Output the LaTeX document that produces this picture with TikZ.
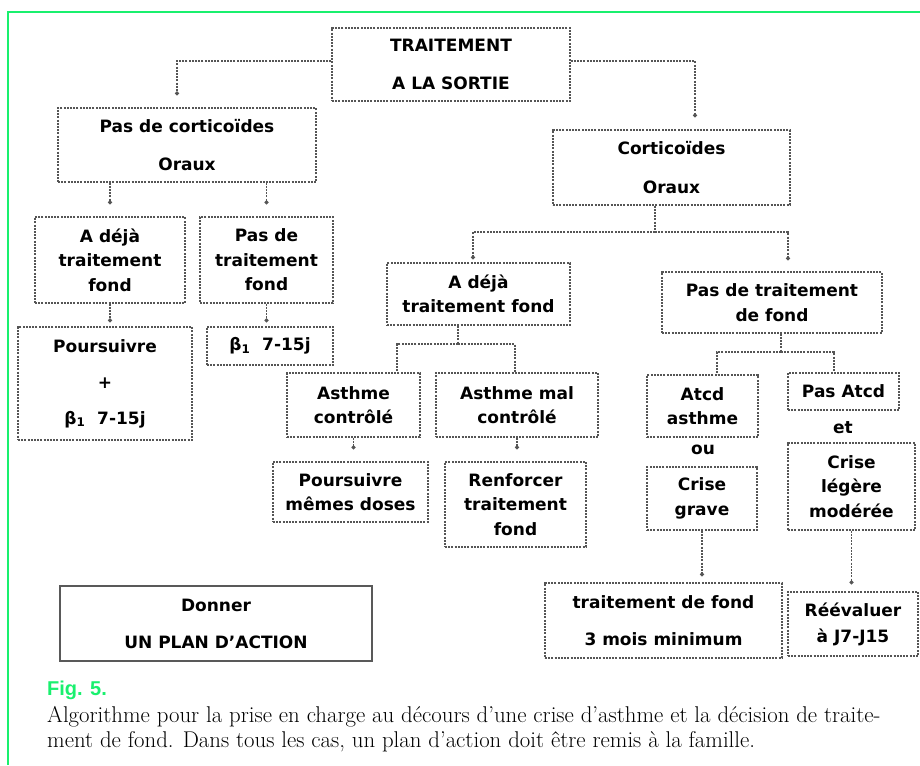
\documentclass[tikz,border=0pt]{standalone}
\usepackage{fontspec}
\setsansfont{DejaVu Sans}
\newfontfamily\figfont{Liberation Sans}
\usetikzlibrary{arrows.meta}

\definecolor{vertfig}{RGB}{25,240,110}
\definecolor{gristrait}{RGB}{85,85,85}

\tikzset{
  boite/.style={draw=gristrait, dash pattern=on 2pt off 1.2pt, line width=1.2pt,
    align=center, inner sep=0pt, font=\sffamily\bfseries\fontsize{17}{24.5}\selectfont},
  texte/.style={inner sep=0pt, font=\sffamily\bfseries\fontsize{17}{24.5}\selectfont},
  fil/.style={draw=gristrait, dash pattern=on 2pt off 1.2pt, line width=1.2pt},
  lien/.style={fil, -{Circle[length=4pt]}, shorten >=#1},
  lien/.default=10pt,
  legende/.style={anchor=base west, inner sep=0pt, font=\fontsize{22.8}{25}\selectfont},
}

\begin{document}
\begin{tikzpicture}[x=1pt, y=-1pt]

\useasboundingbox (0,0) rectangle (920,765);

% -----------------------
% Cadre
% -----------------------
\draw[vertfig, line width=2.5pt] (8,765) -- (8,12) -- (920,12);

% -----------------------
% Sommet
% -----------------------
\node[boite, minimum width=238pt, minimum height=73pt] (trait) at (451,64.5)
  {TRAITEMENT\\[13.5pt]A LA SORTIE};

% -----------------------
% Branche gauche
% -----------------------
\node[boite, minimum width=258pt, minimum height=74pt] (pascortico) at (187,145)
  {Pas de corticoïdes\\[13.5pt]Oraux};
\node[boite, minimum width=150pt, minimum height=86pt] (dejaL) at (110,260)
  {A déjà\\traitement\\fond};
\node[boite, minimum width=133pt, minimum height=86pt] (pasfondL) at (266.5,260)
  {Pas de\\traitement\\fond};
\node[boite, minimum width=174pt, minimum height=113pt] (poursL) at (105,383.5)
  {Poursuivre\\[11.5pt]+\\[11.5pt]β\textsubscript{1}\ \ 7-15j};
\node[boite, minimum width=126pt, minimum height=38pt] (betaL) at (270,346)
  {β\textsubscript{1}\ \ 7-15j};

% -----------------------
% Branche droite
% -----------------------
\node[boite, minimum width=237pt, minimum height=75pt] (cortico) at (671.5,167.5)
  {Corticoïdes\\[15pt]Oraux};
\node[boite, minimum width=183pt, minimum height=62pt] (dejaR) at (478.5,294)
  {A déjà\\traitement fond};
\node[boite, minimum width=220pt, minimum height=61pt] (pasfondR) at (772,302.5)
  {Pas de traitement\\de fond};

\node[boite, minimum width=133pt, minimum height=64pt] (controle) at (353.5,405)
  {Asthme\\contrôlé};
\node[boite, minimum width=162pt, minimum height=64pt] (malcontrole) at (517,405)
  {Asthme mal\\contrôlé};
\node[boite, minimum width=155pt, minimum height=60pt] (poursR) at (350.5,492)
  {Poursuivre\\mêmes doses};
\node[boite, minimum width=141pt, minimum height=85pt] (renforcer) at (515.5,504.5)
  {Renforcer\\traitement\\fond};

\node[boite, minimum width=111pt, minimum height=62pt] (atcd) at (702.5,406)
  {Atcd\\asthme};
\node[texte] (ou) at (703,450) {ou};
\node[boite, minimum width=110pt, minimum height=63pt] (crisegrave) at (702,498.5)
  {Crise\\grave};
\node[boite, minimum width=111pt, minimum height=37pt] (pasatcd) at (843.5,391.5)
  {Pas Atcd};
\node[texte] (et) at (843,428) {et};
\node[boite, minimum width=127pt, minimum height=87pt] (criselegere) at (851.5,486.5)
  {Crise\\légère\\modérée};

\node[boite, minimum width=237pt, minimum height=75pt] (fondtrois) at (663.5,620.5)
  {traitement de fond\\[12.5pt]3 mois minimum};
\node[boite, minimum width=130pt, minimum height=64pt] (reevaluer) at (853,624)
  {Réévaluer\\[1.5pt]à J7-J15};

% -----------------------
% Plan d'action
% -----------------------
\node[boite, solid, draw=gray!70!black, line width=2pt, minimum width=312pt, minimum height=75pt]
  (plan) at (216,623.5) {Donner\\[12.5pt]UN PLAN D'ACTION};

% -----------------------
% Liens
% -----------------------
\draw[lien=12pt] ([yshift=3.5pt]trait.west) -| ([xshift=-10pt]pascortico.north);
\draw[lien=12pt] ([yshift=3.5pt]trait.east) -| ([xshift=23.5pt]cortico.north);

\draw[lien=12pt] (pascortico.south -| dejaL.north) -- (dejaL.north);
\draw[lien=12pt] (pascortico.south -| pasfondL.north) -- (pasfondL.north);
\draw[lien=4pt] (dejaL.south) -- (dejaL.south |- poursL.north);
\draw[lien=4pt] (pasfondL.south) -- (pasfondL.south |- betaL.north);

\coordinate (nd1) at (655,232);
\draw[fil] (cortico.south -| nd1) -- (nd1);
\draw[lien=3pt] (nd1) -| ([xshift=-5.5pt]dejaR.north);
\draw[lien=11pt] (nd1) -| ([xshift=16pt]pasfondR.north);

\coordinate (nd2) at (458,344);
\draw[fil] (dejaR.south -| nd2) -- (nd2);
\draw[fil] (nd2) -| ([xshift=43.5pt]controle.north);
\draw[fil] (nd2) -| ([xshift=-2pt]malcontrole.north);
\draw[lien=12pt] (controle.south) -- (controle.south |- poursR.north);
\draw[lien=12pt] (malcontrole.south) -- (malcontrole.south |- renforcer.north);

\coordinate (nd3) at (781,352);
\draw[fil] (pasfondR.south -| nd3) -- (nd3);
\draw[fil] (nd3) -| ([xshift=14.5pt]atcd.north);
\draw[fil] (nd3) -| ([xshift=-9.5pt]pasatcd.north);
\draw[lien=6pt] (crisegrave.south) -- (crisegrave.south |- fondtrois.north);
\draw[lien=7pt] (criselegere.south) -- (criselegere.south |- reevaluer.north);

% -----------------------
% Légende
% -----------------------
\node[anchor=base west, inner sep=0pt, text=vertfig, font=\figfont\bfseries\fontsize{20}{24}\selectfont]
  (fig) at (47,695) {Fig. 5.};
\node[legende] (legA) at (47,722)
  {Algorithme pour la prise en charge au décours d’une crise d’asthme et la décision de traite-};
\node[legende] (legB) at (47,747)
  {ment de fond. Dans tous les cas, un plan d’action doit être remis à la famille.};

\end{tikzpicture}
\end{document}
